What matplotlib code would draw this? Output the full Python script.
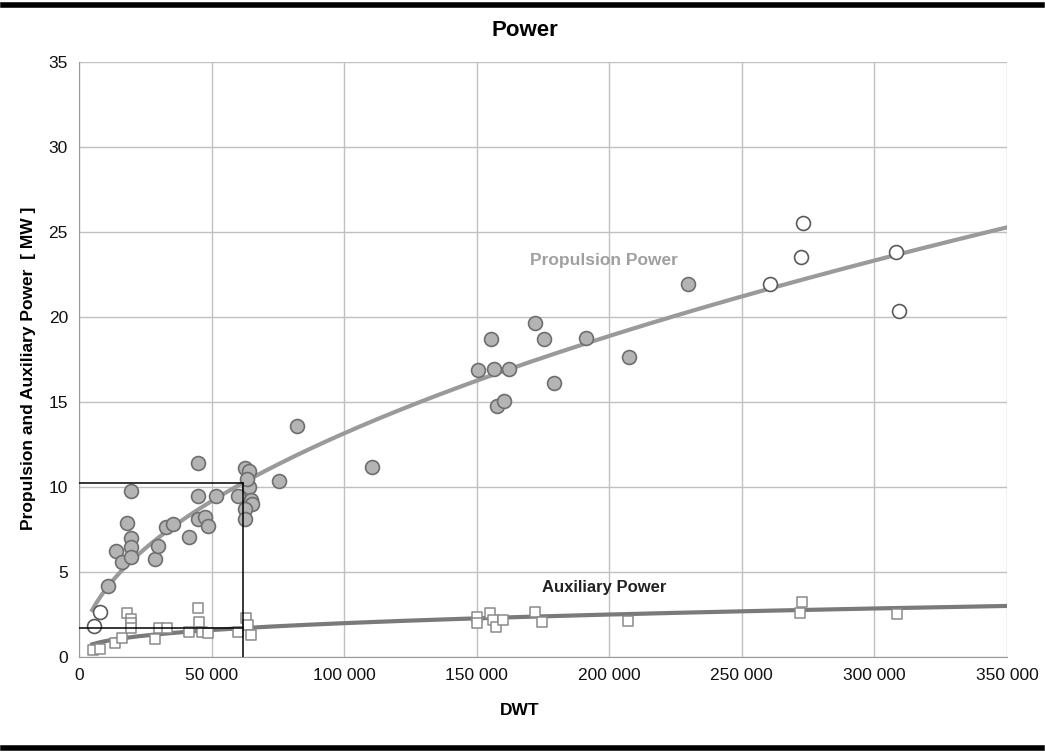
import numpy as np
import matplotlib
matplotlib.use("Agg")
import matplotlib.pyplot as plt
from matplotlib.ticker import FuncFormatter

# Propulsion power - filled circles
prop_filled_dwt = [11050, 13800, 16100, 17980, 19500, 19500, 19500, 19500, 28500, 29900,
                   32900, 35600, 41500, 44900, 44900, 45000, 47500, 48700, 51800, 59800,
                   62500, 64300, 64100, 63500, 64700, 65300, 62600, 62600, 75400, 82300,
                   110500, 155300, 171900, 175300, 191400, 150300, 156500, 162200, 179200,
                   207300, 157700, 160300, 229700]
prop_filled_mw = [4.19, 6.25, 5.61, 7.86, 6.98, 6.45, 5.9, 9.76, 5.76, 6.53,
                  7.67, 7.82, 7.04, 11.43, 9.47, 8.12, 8.25, 7.7, 9.49, 9.47,
                  11.1, 10.96, 10.0, 10.5, 9.24, 9.0, 8.69, 8.1, 10.35, 13.6,
                  11.18, 18.7, 19.67, 18.7, 18.75, 16.88, 16.94, 16.94, 16.1,
                  17.63, 14.76, 15.08, 21.92]
# Propulsion power - hollow circles
prop_hollow_dwt = [5650, 7800, 273100, 272200, 260800, 308300, 309100]
prop_hollow_mw = [1.80, 2.66, 25.55, 23.55, 21.94, 23.8, 20.37]

# Auxiliary power - squares
aux_dwt = [5300, 7800, 13600, 16300, 18000, 19500, 19500, 19500, 28700, 30200,
           33300, 41500, 44900, 45200, 46500, 48700, 60000, 62800, 63800, 64700,
           150000, 150000, 155100, 156100, 157300, 160000, 172000, 174800, 206900,
           272700, 272000, 308600]
aux_mw = [0.41, 0.45, 0.80, 1.10, 2.57, 2.24, 2.0, 1.69, 1.06, 1.69,
          1.69, 1.49, 2.9, 2.08, 1.49, 1.39, 1.49, 2.27, 1.88, 1.29,
          2.37, 1.98, 2.57, 2.18, 1.78, 2.18, 2.67, 2.04, 2.12,
          3.25, 2.57, 2.53]

# Trend curves (power law through a reference point)
prop_trend_ref = (61800, 10.24, 0.521)
aux_trend_ref = (61800, 1.70, 0.328)
trend_start = 5000
trend_end = 350000

# Reading lines
ref_dwt = 61800
ref_prop = 10.24
ref_aux = 1.70

x_ticks = [0, 50000, 100000, 150000, 200000, 250000, 300000, 350000]
y_ticks = [0, 5, 10, 15, 20, 25, 30, 35]

plt.rcParams['font.family'] = ['Liberation Sans', 'DejaVu Sans']

fig = plt.figure(figsize=(10.45, 7.55), dpi=100)
ax = fig.add_axes([79/1045, 1 - 657/755, (1007-79)/1045, (657-62)/755])

ax.set_xlim(0, 350000)
ax.set_ylim(0, 35)
ax.set_xticks(x_ticks)
ax.set_yticks(y_ticks)
ax.xaxis.set_major_formatter(FuncFormatter(lambda v, p: f"{int(v):,}".replace(",", " ")))
ax.grid(True, color="#c0c0c0", linewidth=1.0)
ax.set_axisbelow(True)
for s in ["top", "right"]:
    ax.spines[s].set_visible(False)
for s in ["left", "bottom"]:
    ax.spines[s].set_color("#9a9a9a")
ax.tick_params(length=0, labelsize=12.5, pad=8, labelcolor="#111111")

xs = np.linspace(trend_start, trend_end, 400)
x0, y0, b = prop_trend_ref
ax.plot(xs, y0 * (xs / x0) ** b, color="#9a9a9a", lw=3, zorder=2)
x0, y0, b = aux_trend_ref
ax.plot(xs, y0 * (xs / x0) ** b, color="#7a7a7a", lw=3, zorder=2)

# reading lines
ax.plot([0, ref_dwt], [ref_prop, ref_prop], color="black", lw=1.1, zorder=4)
ax.plot([0, ref_dwt], [ref_aux, ref_aux], color="black", lw=1.1, zorder=4)
ax.plot([ref_dwt, ref_dwt], [0, ref_prop], color="black", lw=1.1, zorder=4)

ax.scatter(prop_filled_dwt, prop_filled_mw, s=100, facecolor="#b4b4b4",
           edgecolor="#6e6e6e", linewidth=1.2, zorder=3)
ax.scatter(prop_hollow_dwt, prop_hollow_mw, s=100, facecolor="white",
           edgecolor="#5a5a5a", linewidth=1.2, zorder=3)
ax.scatter(aux_dwt, aux_mw, s=52, marker="s", facecolor="white",
           edgecolor="#8a8a8a", linewidth=1.1, zorder=3)

ax.text(197800, 23.35, "Propulsion Power", color="#a0a0a0", fontsize=12.5,
        fontweight="bold", ha="center", va="center")
ax.text(198000, 4.1, "Auxiliary Power", color="#222222", fontsize=12,
        fontweight="bold", ha="center", va="center")

fig.text(525/1045, 1 - 30/755, "Power", fontsize=16, fontweight="bold",
         ha="center", va="center")
ax.set_xlabel("DWT", fontsize=12.5, fontweight="bold")
ax.xaxis.set_label_coords(0.475, -0.077)
ax.set_ylabel("Propulsion and Auxiliary Power  [ MW ]", fontsize=12.5,
              fontweight="bold")
ax.yaxis.set_label_coords(-0.046, 0.485)

# scan frame
fig.add_artist(plt.Line2D([0.003, 0.997], [1 - 5/755, 1 - 5/755], color="black",
                          lw=4, transform=fig.transFigure))
fig.add_artist(plt.Line2D([0.003, 0.997], [1 - 748/755, 1 - 748/755], color="black",
                          lw=4, transform=fig.transFigure))

fig.savefig("out.png", dpi=100)
